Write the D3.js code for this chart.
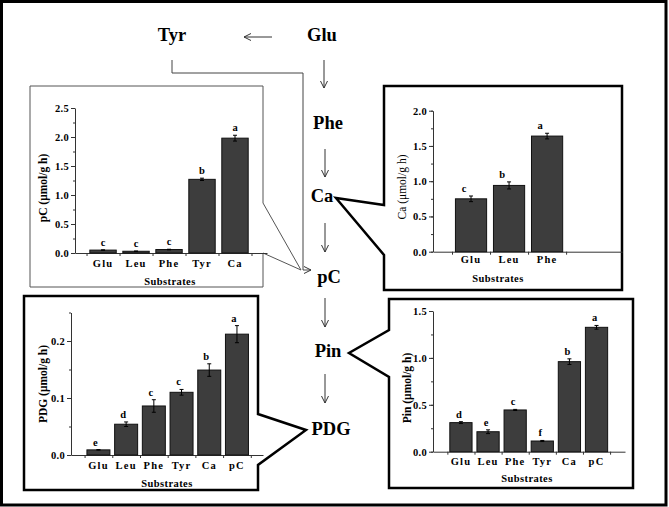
<!DOCTYPE html>
<html>
<head>
<meta charset="utf-8">
<script src="https://cdn.jsdelivr.net/npm/d3@7"></script>
<style>
  body { margin: 0; background: #fff; }
  svg { display: block; }
  text { font-family: "Liberation Serif", "Times New Roman", serif; fill: #000; }
</style>
</head>
<body>
<svg id="fig" width="669" height="507"></svg>
<script>
"use strict";

// pC panel
var pcCategories = ["Glu", "Leu", "Phe", "Tyr", "Ca"];
var pcValues = [0.05, 0.03, 0.06, 1.27, 1.98];
var pcErrors = [0.005, 0.005, 0.005, 0.02, 0.05];
var pcLetters = ["c", "c", "c", "b", "a"];
var pcTicks = [0, 0.5, 1.0, 1.5, 2.0, 2.5];

// Ca panel
var caCategories = ["Glu", "Leu", "Phe"];
var caValues = [0.75, 0.94, 1.64];
var caErrors = [0.04, 0.05, 0.04];
var caLetters = ["c", "b", "a"];
var caTicks = [0, 0.5, 1.0, 1.5, 2.0];

// PDG panel
var pdgCategories = ["Glu", "Leu", "Phe", "Tyr", "Ca", "pC"];
var pdgValues = [0.009, 0.054, 0.086, 0.110, 0.149, 0.212];
var pdgErrors = [0.0005, 0.004, 0.011, 0.005, 0.011, 0.015];
var pdgLetters = ["e", "d", "c", "c", "b", "a"];
var pdgTicks = [0, 0.1, 0.2];

// Pin panel
var pinCategories = ["Glu", "Leu", "Phe", "Tyr", "Ca", "pC"];
var pinValues = [0.31, 0.213, 0.445, 0.114, 0.96, 1.326];
var pinErrors = [0.01, 0.02, 0.006, 0.006, 0.03, 0.02];
var pinLetters = ["d", "e", "c", "f", "b", "a"];
var pinTicks = [0, 0.5, 1.0, 1.5];

// pathway labels
var pathway = [
  { name: "Glu", x: 322, y: 35 },
  { name: "Tyr", x: 172, y: 35 },
  { name: "Phe", x: 328, y: 123 },
  { name: "Ca",  x: 322, y: 196 },
  { name: "pC",  x: 329, y: 277 },
  { name: "Pin", x: 328, y: 351 },
  { name: "PDG", x: 331, y: 429 }
];

var svg = d3.select("#fig");
var fmt = d3.format(".1f");

function chevron(g, x, y, dir) {
  // small open arrow head, dir: "down" or "left" or "right"
  var p;
  if (dir == "down") p = [[x - 3.5, y - 7], [x, y], [x + 3.5, y - 7]];
  else if (dir == "left") p = [[x + 7, y - 3.5], [x, y], [x + 7, y + 3.5]];
  else p = [[x - 7, y - 3.5], [x, y], [x - 7, y + 3.5]];
  g.append("path").attr("d", d3.line()(p))
    .attr("fill", "none").attr("stroke", "#333").attr("stroke-width", 1);
}

function drawPanel(p) {
  var g = svg.append("g");
  var x = d3.scaleLinear().domain([p.lo, p.hi]).range([p.x0, p.x1]);
  var y = d3.scaleLinear().domain([0, p.ymax]).range([p.y0, p.y1]);

  // minor y ticks
  var minor = d3.range(0, p.ymax + 1e-9, p.minor);
  g.append("g").attr("transform", "translate(" + p.x0 + ",0)")
    .call(d3.axisLeft(y).tickValues(minor).tickSize(2).tickSizeOuter(0).tickFormat(""))
    .call(function (a) { a.select(".domain").remove(); })
    .selectAll("line").attr("stroke", "#333");

  var ya = g.append("g").attr("transform", "translate(" + p.x0 + ",0)")
    .call(d3.axisLeft(y).tickValues(p.ticks).tickSize(4).tickSizeOuter(0).tickFormat(fmt).tickPadding(2));
  ya.select(".domain").attr("stroke", "#333");
  ya.selectAll("line").attr("stroke", "#333");
  ya.selectAll("text").attr("font-family", "Liberation Serif, serif")
    .attr("font-size", 10.5).attr("font-weight", "bold").attr("letter-spacing", 0.3);

  var bounds = d3.range(p.categories.length + 1).map(function (i) { return i - 0.5; });
  var xa = g.append("g").attr("transform", "translate(0," + p.y0 + ")")
    .call(d3.axisBottom(x).tickValues(bounds).tickSize(3).tickSizeOuter(0).tickFormat(""));
  xa.select(".domain").attr("stroke", "#333");
  xa.selectAll("line").attr("stroke", "#333");

  var step = x(1) - x(0);
  var bw = step * p.bar;

  g.selectAll("rect.bar").data(p.values).enter().append("rect")
    .attr("class", "bar")
    .attr("x", function (d, i) { return x(i) - bw / 2; })
    .attr("y", function (d) { return y(d); })
    .attr("width", bw)
    .attr("height", function (d) { return y(0) - y(d); })
    .attr("fill", "#3d3d3d").attr("stroke", "#111").attr("stroke-width", 1);

  // error bars
  var eb = g.selectAll("g.err").data(p.values).enter().append("g").attr("class", "err");
  eb.append("path").attr("d", function (d, i) {
    var cx = x(i), t = y(d + p.errors[i]), b = y(Math.max(0, d - p.errors[i]));
    return "M" + cx + "," + t + "V" + b + "M" + (cx - 2) + "," + t + "H" + (cx + 2) +
      "M" + (cx - 2) + "," + b + "H" + (cx + 2);
  }).attr("stroke", "#000").attr("stroke-width", 1).attr("fill", "none");

  g.selectAll("text.sig").data(p.letters).enter().append("text")
    .attr("class", "sig")
    .attr("x", function (d, i) { return x(i) + p.letterDx; })
    .attr("y", function (d, i) { return y(p.values[i] + p.errors[i]) - 4; })
    .attr("text-anchor", "middle").attr("font-size", 10.5).attr("font-weight", "bold")
    .text(function (d) { return d; });

  g.selectAll("text.cat").data(p.categories).enter().append("text")
    .attr("class", "cat")
    .attr("x", function (d, i) { return x(i); })
    .attr("y", p.y0 + p.catDy)
    .attr("dy", "0.35em")
    .attr("text-anchor", "middle").attr("font-size", 10.5).attr("font-weight", "bold")
    .attr("letter-spacing", 1.2)
    .text(function (d) { return d; });

  g.append("text").attr("x", p.subX).attr("y", p.subY).attr("dy", "0.35em")
    .attr("text-anchor", "middle").attr("font-size", 10.5).attr("font-weight", "bold")
    .attr("letter-spacing", 0.4)
    .text("Substrates");

  g.append("text")
    .attr("transform", "translate(" + p.titleX + "," + p.titleY + ") rotate(-90)")
    .attr("dy", "0.35em").attr("text-anchor", "middle")
    .attr("font-size", p.titleSize).attr("font-weight", p.titleWeight)
    .attr("fill", p.titleColor)
    .text(p.title);
}

// outer frame
svg.append("rect").attr("x", 1.5).attr("y", 1.5).attr("width", 664.5).attr("height", 503.5)
  .attr("fill", "none").attr("stroke", "#000").attr("stroke-width", 3);

// panel outlines (callouts)
var line = d3.line();
svg.append("path")
  .attr("d", line([[30, 86], [263, 86], [263, 203], [301, 270], [263, 253], [263, 287], [30, 287]]) + "Z")
  .attr("fill", "#fff").attr("stroke", "#555").attr("stroke-width", 1);
svg.append("path")
  .attr("d", line([[384, 86], [622, 86], [622, 290], [384, 290], [384, 255], [336, 198], [384, 205]]) + "Z")
  .attr("fill", "#fff").attr("stroke", "#000").attr("stroke-width", 2.5);
svg.append("path")
  .attr("d", line([[24, 296], [258, 296], [258, 414], [306, 430], [258, 465], [258, 490], [24, 490]]) + "Z")
  .attr("fill", "#fff").attr("stroke", "#000").attr("stroke-width", 2.5);
svg.append("path")
  .attr("d", line([[389, 299], [633, 299], [633, 488], [389, 488], [389, 377], [349, 353], [389, 330]]) + "Z")
  .attr("fill", "#fff").attr("stroke", "#000").attr("stroke-width", 2.5);

// pathway connectors
var conn = svg.append("g");
conn.append("path").attr("d", "M172,60V73H303V270H311")
  .attr("fill", "none").attr("stroke", "#444").attr("stroke-width", 1);
chevron(conn, 311, 270, "right");
conn.append("path").attr("d", "M272,37H244").attr("stroke", "#333").attr("stroke-width", 1);
chevron(conn, 244, 37, "left");
[[324, 60, 88], [325, 149, 177], [325, 223, 252], [325, 298, 327], [325, 374, 403]].forEach(function (a) {
  conn.append("path").attr("d", "M" + a[0] + "," + a[1] + "V" + a[2])
    .attr("stroke", "#333").attr("stroke-width", 1);
  chevron(conn, a[0], a[2], "down");
});

svg.selectAll("text.step").data(pathway).enter().append("text")
  .attr("class", "step")
  .attr("x", function (d) { return d.x; })
  .attr("y", function (d) { return d.y; })
  .attr("dy", "0.35em").attr("text-anchor", "middle")
  .attr("font-size", 18.5).attr("font-weight", "bold")
  .text(function (d) { return d.name; });

drawPanel({
  categories: pcCategories, values: pcValues, errors: pcErrors, letters: pcLetters, ticks: pcTicks,
  ymax: 2.5, minor: 0.25, x0: 75, x1: 267, lo: -0.85, hi: 4.97, y0: 253, y1: 108, bar: 0.8,
  letterDx: 0, catDy: 10, subX: 170, subY: 281,
  title: "pC (\u03bcmol/g h)", titleX: 43, titleY: 188, titleSize: 11.5, titleWeight: "bold", titleColor: "#000"
});
drawPanel({
  categories: caCategories, values: caValues, errors: caErrors, letters: caLetters, ticks: caTicks,
  ymax: 2.0, minor: 0.25, x0: 433, x1: 622, lo: -1, hi: 3.97, y0: 251.7, y1: 110.7, bar: 0.82,
  letterDx: -7, catDy: 8, subX: 498, subY: 278,
  title: "Ca (\u03bcmol/g h)", titleX: 402, titleY: 187, titleSize: 11.5, titleWeight: "normal", titleColor: "#333"
});
drawPanel({
  categories: pdgCategories, values: pdgValues, errors: pdgErrors, letters: pdgLetters, ticks: pdgTicks,
  ymax: 0.25, minor: 0.05, x0: 71, x1: 263, lo: -0.99, hi: 5.94, y0: 455, y1: 312.5, bar: 0.83,
  letterDx: -3, catDy: 10, subX: 167, subY: 483,
  title: "PDG (\u03bcmol/g h)", titleX: 43, titleY: 384, titleSize: 11.5, titleWeight: "bold", titleColor: "#000"
});
drawPanel({
  categories: pinCategories, values: pinValues, errors: pinErrors, letters: pinLetters, ticks: pinTicks,
  ymax: 1.5, minor: 0.25, x0: 433, x1: 625, lo: -1.03, hi: 6.05, y0: 451.7, y1: 311, bar: 0.82,
  letterDx: -2, catDy: 10, subX: 527, subY: 478,
  title: "Pin (\u03bcmol/g h)", titleX: 407, titleY: 388, titleSize: 11.5, titleWeight: "bold", titleColor: "#000"
});
</script>
</body>
</html>
